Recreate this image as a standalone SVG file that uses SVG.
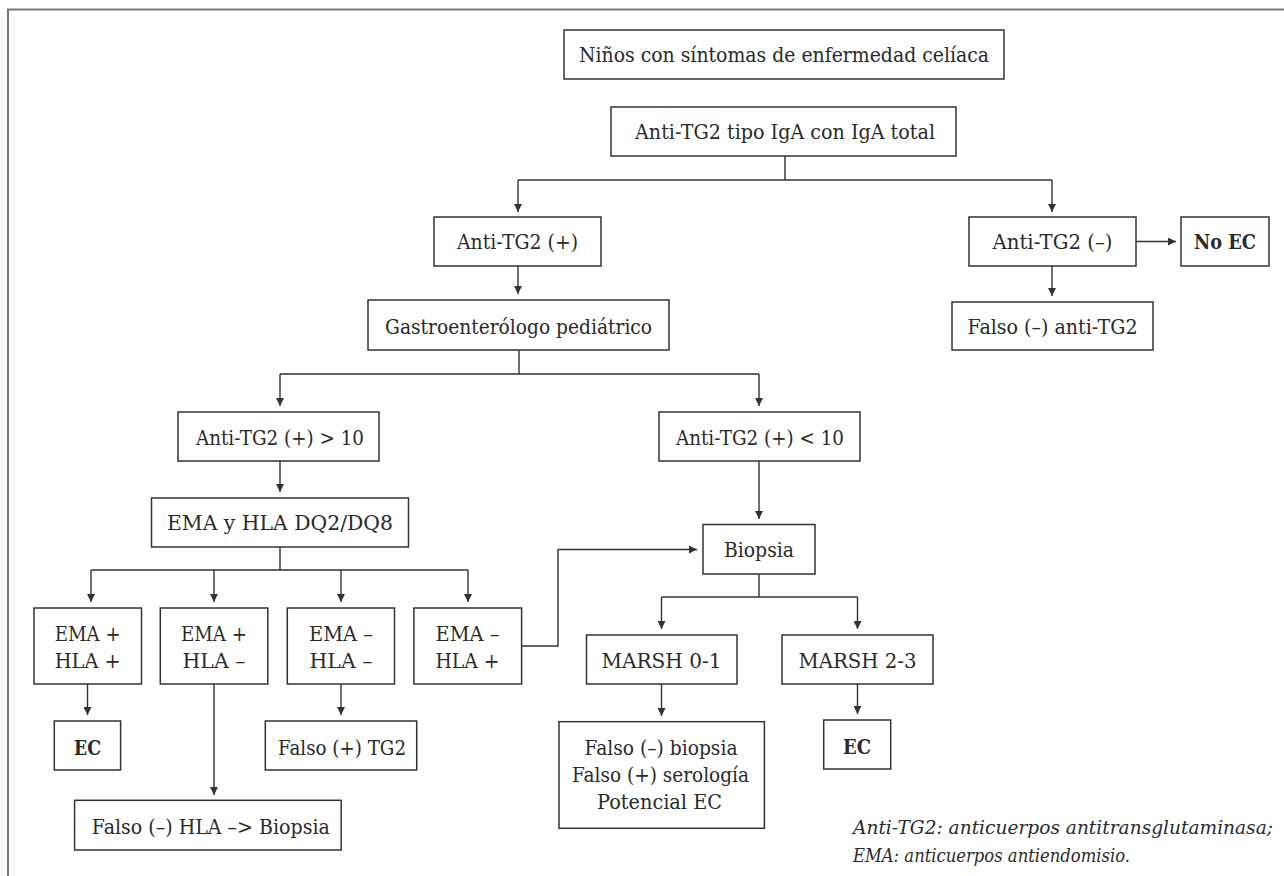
<svg xmlns="http://www.w3.org/2000/svg" width="1284" height="876" viewBox="0 0 1284 876">
<defs>
<style>
.box{fill:#fff;stroke:#333;stroke-width:1.5}
.t{font-family:"DejaVu Serif","Liberation Serif","Noto Serif",serif;font-size:21px;fill:#2a2a2a;text-anchor:middle}
.b{font-weight:bold}
.fn{font-family:"DejaVu Serif","Liberation Serif","Noto Serif",serif;font-size:19px;font-style:italic;fill:#2a2a2a}
.c{fill:none;stroke:#333;stroke-width:1.4}
.frame{fill:none;stroke:#777;stroke-width:2}
</style>
<marker id="ah" viewBox="0 0 8 8" markerWidth="8" markerHeight="8" refX="8" refY="4" orient="auto" markerUnits="userSpaceOnUse">
<path d="M0,0 L8,4 L0,8 z" fill="#333"/>
</marker>
</defs>
<rect width="1284" height="876" fill="#fff"/>
<path class="frame" d="M8,876 V9.5 H1284"/>

<g id="connectors">
<path class="c" d="M785,156 V180 M518,180 H1052"/>
<path class="c" d="M518,180 V212" marker-end="url(#ah)"/>
<path class="c" d="M1052,180 V212" marker-end="url(#ah)"/>
<path class="c" d="M518,266 V294" marker-end="url(#ah)"/>
<path class="c" d="M1052,266 V296" marker-end="url(#ah)"/>
<path class="c" d="M1136,241.5 H1176" marker-end="url(#ah)"/>
<path class="c" d="M519,350 V374 M280,374 H759"/>
<path class="c" d="M280,374 V406" marker-end="url(#ah)"/>
<path class="c" d="M759,374 V406" marker-end="url(#ah)"/>
<path class="c" d="M280,461 V492" marker-end="url(#ah)"/>
<path class="c" d="M759,461 V519" marker-end="url(#ah)"/>
<path class="c" d="M280,547 V570 M91,570 H468"/>
<path class="c" d="M91,570 V602" marker-end="url(#ah)"/>
<path class="c" d="M214,570 V602" marker-end="url(#ah)"/>
<path class="c" d="M341,570 V602" marker-end="url(#ah)"/>
<path class="c" d="M468,570 V602" marker-end="url(#ah)"/>
<path class="c" d="M87.5,684 V715" marker-end="url(#ah)"/>
<path class="c" d="M214,684 V795" marker-end="url(#ah)"/>
<path class="c" d="M341,684 V715" marker-end="url(#ah)"/>
<path class="c" d="M521.6,646 H558 V549.5 H697" marker-end="url(#ah)"/>
<path class="c" d="M759,574 V597 M661.5,597 H857.5"/>
<path class="c" d="M661.5,597 V629" marker-end="url(#ah)"/>
<path class="c" d="M857.5,597 V629" marker-end="url(#ah)"/>
<path class="c" d="M661.5,684 V716" marker-end="url(#ah)"/>
<path class="c" d="M857.5,684 V714" marker-end="url(#ah)"/>
</g>

<g id="n-ninos"><rect class="box" x="564" y="30" width="440" height="49"/><text class="t" x="784" y="62" textLength="410" lengthAdjust="spacingAndGlyphs">Niños con síntomas de enfermedad celíaca</text></g>
<g id="n-antitg2"><rect class="box" x="611" y="107" width="345" height="49"/><text class="t" x="785" y="139" textLength="300" lengthAdjust="spacingAndGlyphs">Anti-TG2 tipo IgA con IgA total</text></g>
<g id="n-pos"><rect class="box" x="434" y="217" width="167" height="49"/><text class="t" x="517.5" y="249" textLength="121" lengthAdjust="spacingAndGlyphs">Anti-TG2 (+)</text></g>
<g id="n-neg"><rect class="box" x="969" y="217" width="167" height="49"/><text class="t" x="1052.5" y="249" textLength="120" lengthAdjust="spacingAndGlyphs">Anti-TG2 (–)</text></g>
<g id="n-noec"><rect class="box" x="1181" y="217" width="88" height="49"/><text class="t b" x="1225" y="249" textLength="62" lengthAdjust="spacingAndGlyphs">No EC</text></g>
<g id="n-gastro"><rect class="box" x="368" y="300" width="301" height="50"/><text class="t" x="518.5" y="334" textLength="267" lengthAdjust="spacingAndGlyphs">Gastroenterólogo pediátrico</text></g>
<g id="n-falsoanti"><rect class="box" x="952" y="302" width="201" height="48"/><text class="t" x="1052.5" y="334" textLength="170" lengthAdjust="spacingAndGlyphs">Falso (–) anti-TG2</text></g>
<g id="n-gt10"><rect class="box" x="178" y="412" width="201" height="49"/><text class="t" x="280" y="445" textLength="168" lengthAdjust="spacingAndGlyphs">Anti-TG2 (+) &gt; 10</text></g>
<g id="n-lt10"><rect class="box" x="659" y="412" width="201" height="49"/><text class="t" x="760" y="445" textLength="168" lengthAdjust="spacingAndGlyphs">Anti-TG2 (+) &lt; 10</text></g>
<g id="n-emahla"><rect class="box" x="151.5" y="498" width="257" height="49"/><text class="t" x="280" y="530" textLength="226" lengthAdjust="spacingAndGlyphs">EMA y HLA DQ2/DQ8</text></g>
<g id="n-biopsia"><rect class="box" x="703" y="524.5" width="112" height="49.5"/><text class="t" x="759" y="557" textLength="70" lengthAdjust="spacingAndGlyphs">Biopsia</text></g>
<g id="n-e1"><rect class="box" x="34" y="608" width="107.5" height="76"/><text class="t" x="87.7" y="641" textLength="66" lengthAdjust="spacingAndGlyphs">EMA +</text><text class="t" x="87.7" y="668" textLength="66" lengthAdjust="spacingAndGlyphs">HLA +</text></g>
<g id="n-e2"><rect class="box" x="160.3" y="608" width="107.5" height="76"/><text class="t" x="214" y="641" textLength="66" lengthAdjust="spacingAndGlyphs">EMA +</text><text class="t" x="214" y="668" textLength="63" lengthAdjust="spacingAndGlyphs">HLA –</text></g>
<g id="n-e3"><rect class="box" x="287.3" y="608" width="107.2" height="76"/><text class="t" x="341" y="641" textLength="64" lengthAdjust="spacingAndGlyphs">EMA –</text><text class="t" x="341" y="668" textLength="63" lengthAdjust="spacingAndGlyphs">HLA –</text></g>
<g id="n-e4"><rect class="box" x="413.9" y="608" width="107.7" height="76"/><text class="t" x="467.5" y="641" textLength="64" lengthAdjust="spacingAndGlyphs">EMA –</text><text class="t" x="467.5" y="668" textLength="64" lengthAdjust="spacingAndGlyphs">HLA +</text></g>
<g id="n-marsh01"><rect class="box" x="586.5" y="635" width="150.5" height="49"/><text class="t" x="661.5" y="668" textLength="120" lengthAdjust="spacingAndGlyphs">MARSH 0-1</text></g>
<g id="n-marsh23"><rect class="box" x="782" y="635" width="151" height="49"/><text class="t" x="857.5" y="668" textLength="118" lengthAdjust="spacingAndGlyphs">MARSH 2-3</text></g>
<g id="n-ec1"><rect class="box" x="54.3" y="721" width="66.3" height="49"/><text class="t b" x="87.5" y="755" textLength="27" lengthAdjust="spacingAndGlyphs">EC</text></g>
<g id="n-falsotg2"><rect class="box" x="265.3" y="721" width="151.4" height="49"/><text class="t" x="342" y="755" textLength="128" lengthAdjust="spacingAndGlyphs">Falso (+) TG2</text></g>
<g id="n-falsohla"><rect class="box" x="74.6" y="800.3" width="266.6" height="49.7"/><text class="t" x="210.8" y="834" textLength="238" lengthAdjust="spacingAndGlyphs">Falso (–) HLA –&gt; Biopsia</text></g>
<g id="n-falsobiop"><rect class="box" x="559" y="721.7" width="205.4" height="106.6"/><text class="t" x="661" y="755" textLength="153" lengthAdjust="spacingAndGlyphs">Falso (–) biopsia</text><text class="t" x="660.5" y="782" textLength="177" lengthAdjust="spacingAndGlyphs">Falso (+) serología</text><text class="t" x="659.5" y="809" textLength="125" lengthAdjust="spacingAndGlyphs">Potencial EC</text></g>
<g id="n-ec2"><rect class="box" x="823.7" y="720" width="67" height="49"/><text class="t b" x="857" y="754" textLength="28" lengthAdjust="spacingAndGlyphs">EC</text></g>

<g id="footnote">
<text class="fn" x="853" y="834" textLength="420" lengthAdjust="spacingAndGlyphs">Anti-TG2: anticuerpos antitransglutaminasa;</text>
<text class="fn" x="853" y="862" textLength="277" lengthAdjust="spacingAndGlyphs">EMA: anticuerpos antiendomisio.</text>
</g>
</svg>
